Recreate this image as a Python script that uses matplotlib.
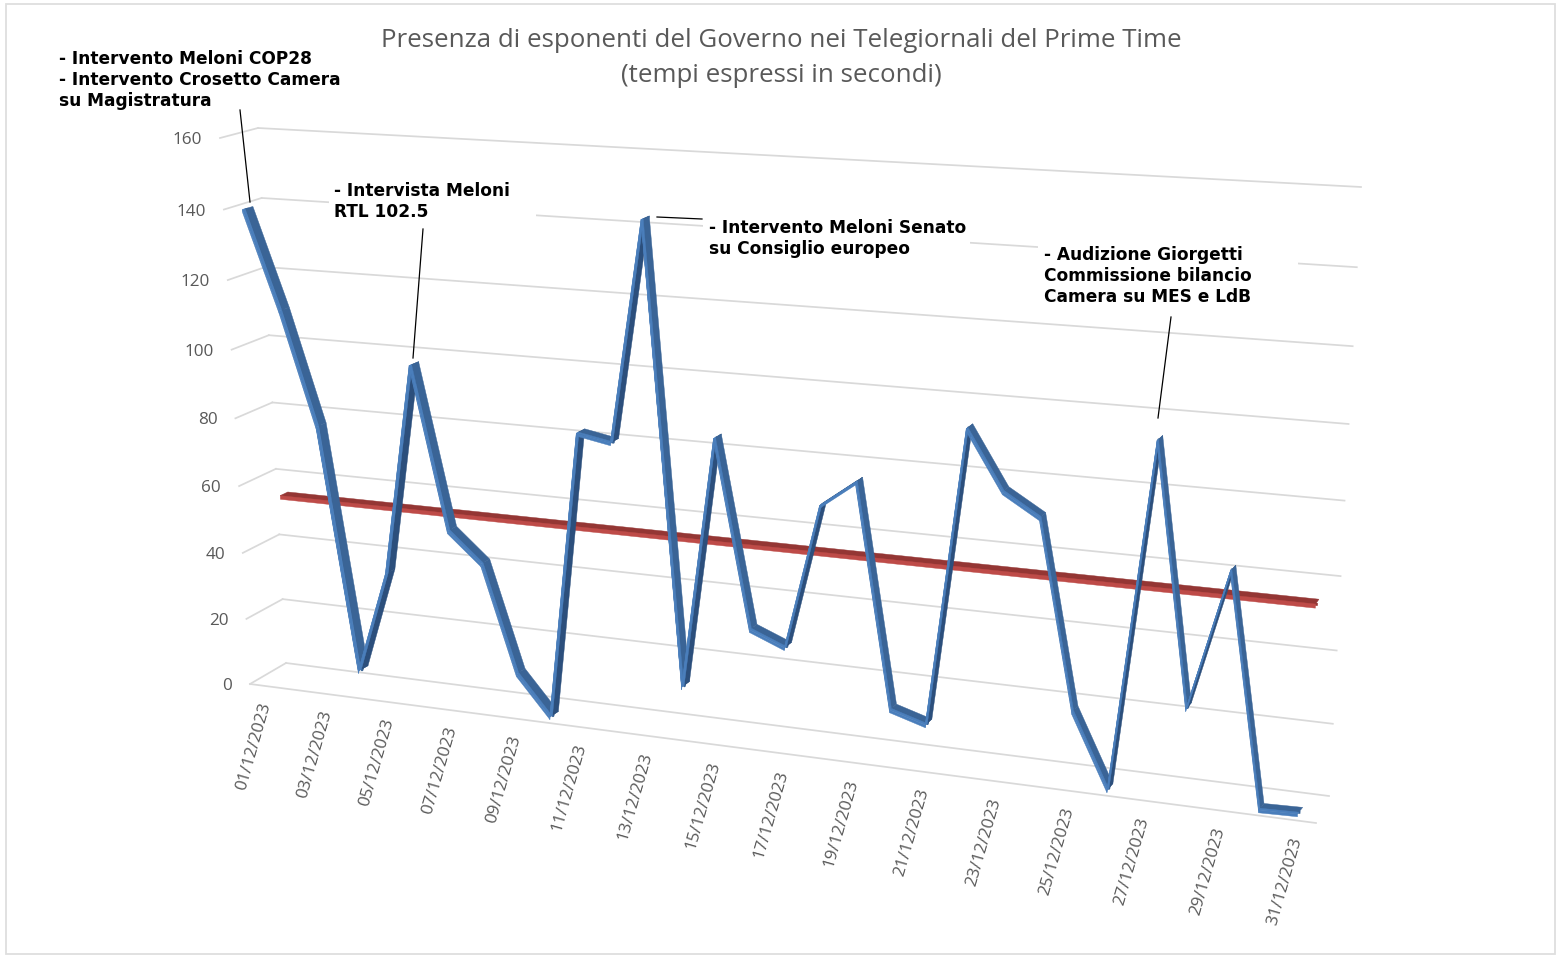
import numpy as np
import matplotlib
matplotlib.use('Agg')
import matplotlib.pyplot as plt
from matplotlib.patches import Polygon, Rectangle
from matplotlib.transforms import Transform

# ---- data ----
days = list(range(1, 32))
tempi = [139.7, 111.6, 79.0, 7.4, 37.7, 99.1, 52.4, 43.8, 12.5, 0.9, 84.2,
         82.4, 144.3, 14.7, 86.3, 33.6, 29.6, 70.6, 78.0, 15.5, 12.5, 95.2,
         79.2, 73.2, 21.2, 0.7, 96.5, 25.8, 64.2, 0.6, 0.9]
media_days = [1, 31]
media = [53.5, 53.5]
value_ticks = [0, 20, 40, 60, 80, 100, 120, 140, 160]
date_ticks = [1, 3, 5, 7, 9, 11, 13, 15, 17, 19, 21, 23, 25, 27, 29, 31]
title = "Presenza di esponenti del Governo nei Telegiornali del Prime Time\n(tempi espressi in secondi)"
notes = ["- Intervento Meloni COP28\n- Intervento Crosetto Camera\nsu Magistratura",
         "- Intervista Meloni\nRTL 102.5",
         "- Intervento Meloni Senato\nsu Consiglio europeo",
         "- Audizione Giorgetti\nCommissione bilancio\nCamera su MES e LdB"]

# ---- layout (pixels) ----
W, H = 1556, 955
note_pos = [(59, 50), (334, 182), (709, 219), (1044, 246)]
note_masks = [(329, 178, 207, 44), (703, 214, 267, 48), (1038, 243, 260, 62)]
leaders = [((240, 110), (250, 202)), ((423, 229), (413, 358)),
           ((657, 217), (702, 219)), ((1171, 317), (1158, 418))]
FRONT = np.array([(250, 684), (1316, 823), (220, 138), (1349, 205)], float)
BACK = np.array([(286, 663), (1329, 796), (258, 128), (1361, 187)], float)
GREY = '#d9d9d9'
TXT = '#595959'
SANS = 'Open Sans'


def homography(dst):
    src = [(0.5, 0), (31.5, 0), (0.5, 160), (31.5, 160)]
    A, b = [], []
    for (x, y), (u, w) in zip(src, dst):
        A.append([x, y, 1, 0, 0, 0, -u * x, -u * y]); b.append(u)
        A.append([0, 0, 0, x, y, 1, -w * x, -w * y]); b.append(w)
    return np.append(np.linalg.solve(np.array(A, float), np.array(b, float)), 1).reshape(3, 3)


class Perspective(Transform):
    """(day, value) -> chart pixel, on the plane at depth t of the 3-D box."""
    input_dims = output_dims = 2

    def __init__(self, t):
        super().__init__()
        self.m = homography(FRONT + (BACK - FRONT) * t)

    def transform_non_affine(self, xy):
        xy = np.asarray(xy, float)
        p = np.column_stack([xy, np.ones(len(xy))]) @ self.m.T
        return p[:, :2] / p[:, 2:]


fig = plt.figure(figsize=(W / 100, H / 100), dpi=100)
ax = fig.add_axes([0, 0, 1, 1])
ax.set_xlim(0, W)
ax.set_ylim(H, 0)
ax.axis('off')
ax.add_patch(Rectangle((6, 4), W - 6.5, H - 5.5, fc='white', ec='#dedede', lw=1.3, zorder=0))

front, back = Perspective(0.0), Perspective(1.0)

# gridlines: back wall, left wall, floor
for v in value_ticks:
    ax.plot([0.5, 31.5], [v, v], transform=back + ax.transData, color=GREY, lw=1.25, zorder=1)
    a = front.transform_non_affine([(0.5, v)])[0]
    b = back.transform_non_affine([(0.5, v)])[0]
    ax.plot([a[0], b[0]], [a[1], b[1]], color=GREY, lw=1.25, zorder=1)
    ax.annotate(str(v), xy=(0.5, v), xycoords=front + ax.transData, xytext=(-18, -2),
                textcoords='offset pixels', ha='right', va='center', color=TXT,
                fontsize=12.3, family=SANS, zorder=2)
ax.plot([0.5, 31.5], [0, 0], transform=front + ax.transData, color=GREY, lw=1.25, zorder=1)

for d in date_ticks:
    ax.annotate(f"{d:02d}/12/2023", xy=(d, 0), xycoords=front + ax.transData, xytext=(1, -17),
                textcoords='offset pixels', ha='right', va='center', rotation=74,
                rotation_mode='anchor', color=TXT, fontsize=12.3, family=SANS, zorder=2)

# white label boxes hide the gridlines behind them
for x, y, w, h in note_masks:
    ax.add_patch(Rectangle((x, y), w, h, fc='white', ec='none', zorder=1.5))


def poly(p, c, z):
    ax.add_patch(Polygon(p, closed=True, fc=c, ec=c, lw=0.3, zorder=z))


def ribbon(xs, ys, t1, ta, t2, h, extra, c_light, c_fall, c_rise, c_face, z):
    T1, Ta, T2 = Perspective(t1), Perspective(ta), Perspective(t2)
    for i in range(len(xs) - 1):
        seg = [(xs[i], ys[i] - h / 2), (xs[i + 1], ys[i + 1] - h / 2)]
        top = [(x, y + h) for x, y in seg]
        rising = ys[i + 1] - ys[i] > 2
        a = T1.transform_non_affine(top)
        m = Ta.transform_non_affine(top) + np.array(extra) * (0.5 if rising else 0.25)
        b = T2.transform_non_affine(top) + np.array(extra)
        base = T1.transform_non_affine(seg)
        poly(np.vstack([m, b[::-1]]), c_rise if rising else c_fall, z)
        poly(np.vstack([a, m[::-1]]), c_light, z)
        poly(np.vstack([base, a[::-1]]), c_face, z)


# average line (behind), then the series
ax.plot(media_days, media, transform=Perspective(0.75) + ax.transData, color='#943634', lw=2, zorder=3)
ribbon(media_days, media, 0.68, 0.68, 0.86, 1.1, (1, -0.5), '#943634', '#943634', '#943634', '#be4b48', 3)
ax.plot(days, tempi, transform=Perspective(0.18) + ax.transData, color='#3a6496', lw=2,
        solid_joinstyle='round', zorder=4)
ribbon(days, tempi, 0.07, 0.13, 0.30, 0.8, (2, -0.3), '#4a7ebb', '#3a6496', '#2c4f7c', '#4a7ebb', 4)

# annotations
for s, (x, y) in zip(notes, note_pos):
    ax.text(x, y, s, ha='left', va='top', fontsize=12.25, fontweight='bold', family='DejaVu Sans',
            color='black', linespacing=1.21, zorder=6)
for (p, q) in leaders:
    ax.plot([p[0], q[0]], [p[1], q[1]], color='black', lw=0.9, zorder=6)

ax.text(781, 58, title, ha='center', va='center', fontsize=18.6, family=SANS, color=TXT,
        linespacing=1.51, zorder=6)

fig.savefig('out.png', dpi=100)
